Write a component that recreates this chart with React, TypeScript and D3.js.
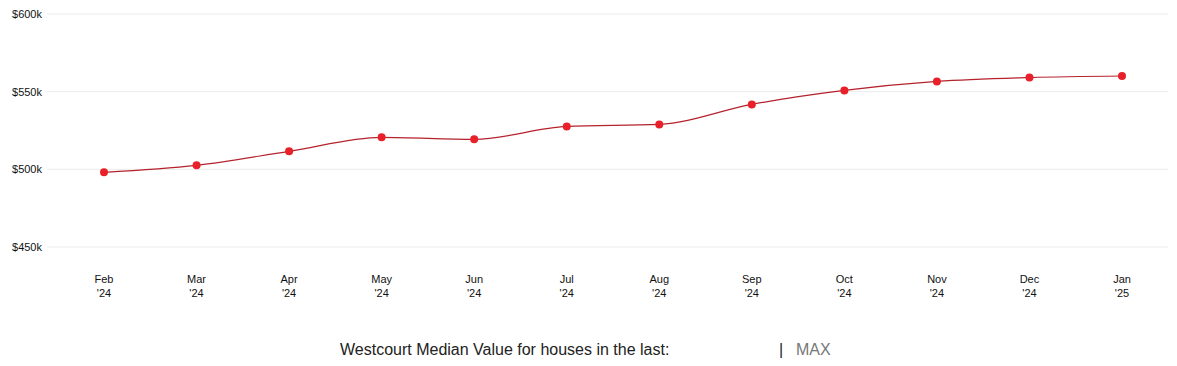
import React from 'react';
import * as d3 from 'd3';

// months shown on the x axis (two-line labels)
const months = ['Feb', 'Mar', 'Apr', 'May', 'Jun', 'Jul', 'Aug', 'Sep', 'Oct', 'Nov', 'Dec', 'Jan'];
const years = ["'24", "'24", "'24", "'24", "'24", "'24", "'24", "'24", "'24", "'24", "'24", "'25"];
// median value in $k
const values = [498.1, 502.6, 511.6, 520.6, 519.3, 527.6, 528.9, 541.8, 550.8, 556.6, 559.1, 560.1];
const yTicks = [450, 500, 550, 600];

const W = 1177;
const H = 366;

const App = () => {
  const x = d3.scalePoint<number>()
    .domain(d3.range(months.length))
    .range([104, 1122]);

  const y = d3.scaleLinear()
    .domain([450, 600])
    .range([247, 14]);

  const line = d3.line<number>()
    .x((_, i) => x(i) as number)
    .y(d => y(d))
    .curve(d3.curveMonotoneX);

  const font = 'Arial, "Liberation Sans", sans-serif';

  return (
    <svg width={W} height={H} style={{ position: 'absolute', left: 0, top: 0, background: '#fff' }} fontFamily={font}>
      {/* gridlines + y labels */}
      {yTicks.map(t => (
        <g key={t}>
          <line x1={47} x2={1168} y1={y(t)} y2={y(t)} stroke="#ebebeb" strokeWidth={1} />
          <text x={42} y={y(t)} dy="0.35em" textAnchor="end" fontSize={11} fill="#111">
            {`$${t}k`}
          </text>
        </g>
      ))}

      {/* x labels */}
      {months.map((m, i) => (
        <text key={i} x={x(i)} y={283} textAnchor="middle" fontSize={11} fill="#111">
          <tspan x={x(i)}>{m}</tspan>
          <tspan x={x(i)} dy={14}>{years[i]}</tspan>
        </text>
      ))}

      <path d={line(values) || ''} fill="none" stroke="#b5222c" strokeWidth={1.2} />

      {values.map((v, i) => (
        <circle key={i} cx={x(i)} cy={y(v)} r={4} fill="#e8202a" />
      ))}

      {/* footer */}
      <text x={340} y={355} fontSize={16} fill="#222">Westcourt Median Value for houses in the last:</text>
      <text x={779} y={355} fontSize={16} fill="#222">|</text>
      <text x={796} y={355} fontSize={16} fill="#777">MAX</text>
    </svg>
  );
};

export default App;
